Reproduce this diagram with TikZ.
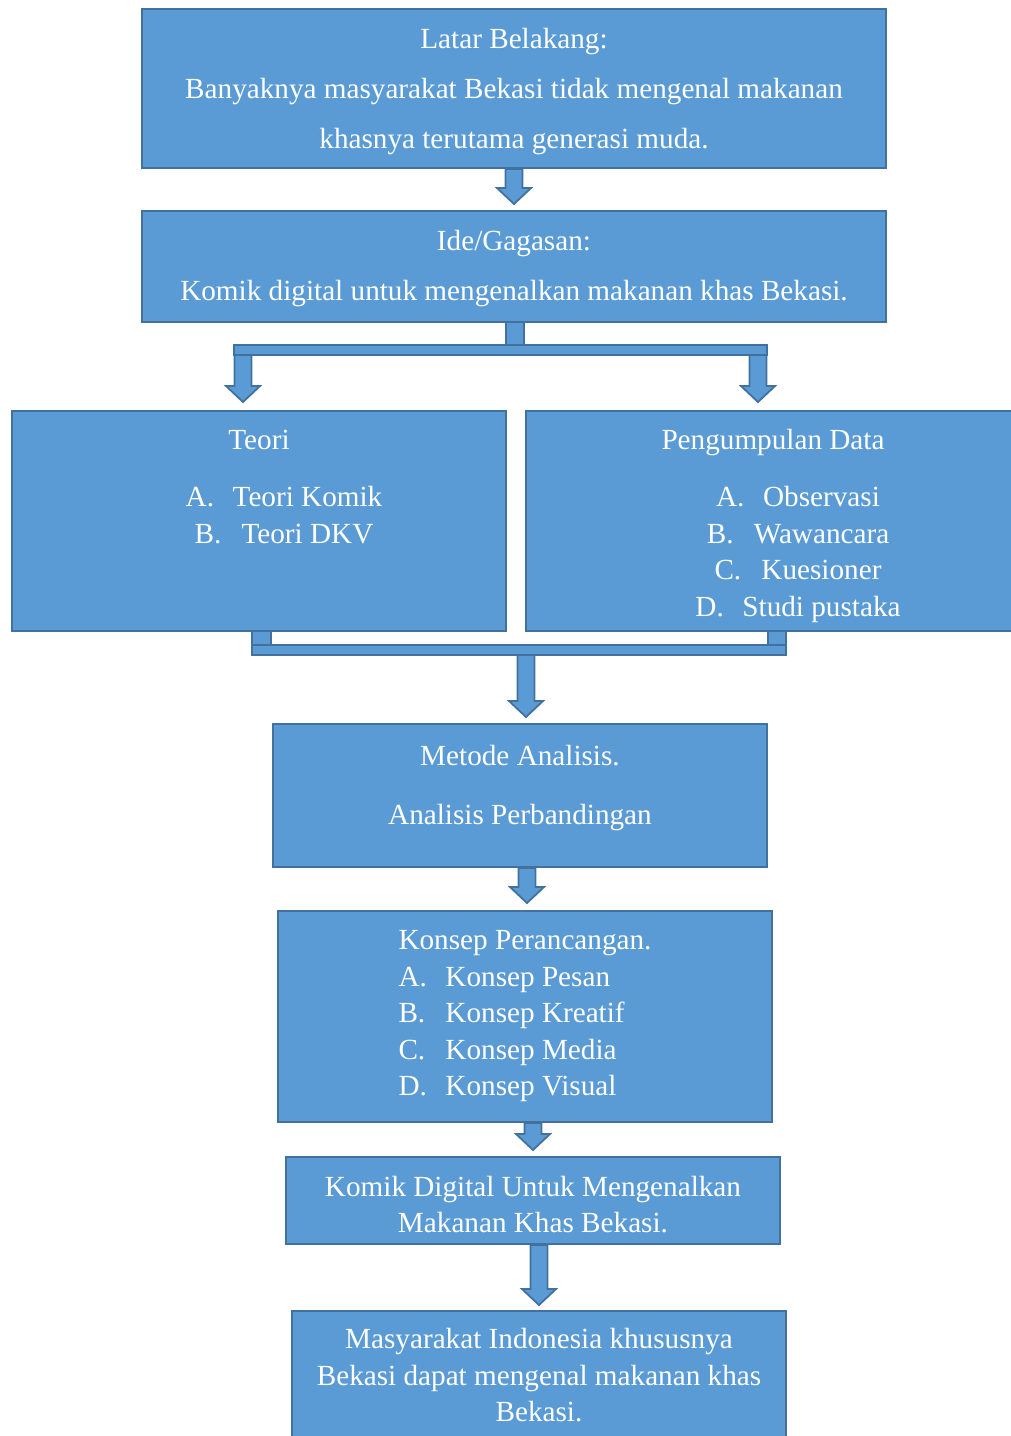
\documentclass[tikz,border=0pt]{standalone}
\usepackage{fontspec}
\setmainfont{Liberation Serif}
\usetikzlibrary{calc}
\definecolor{boxblue}{HTML}{5B9BD5}
\definecolor{boxline}{HTML}{41719C}

\newcommand{\itm}[2]{\makebox[23.5pt][l]{#1}#2}
\newcommand{\blockdown}[2]{%
	\draw[blockarrow] let \p1=(#1), \p2=(#2) in
		(\x2-4.25pt,\y1) -- (\x2+4.25pt,\y1) -- (\x2+4.25pt,\y2+8pt) -- (\x2+8.5pt,\y2+8pt)
		-- (\x2,\y2) -- (\x2-8.5pt,\y2+8pt) -- (\x2-4.25pt,\y2+8pt) -- cycle;}

\begin{document}
\begin{tikzpicture}[x=0.5pt,y=-0.5pt,
		box/.style={draw=boxline,fill=boxblue,line width=1pt,inner sep=0pt},
		boxtext/.style={text=white,align=center,inner sep=0pt,font=\fontsize{14.6pt}{18.25pt}\selectfont},
		wide/.style={font=\fontsize{14.6pt}{25pt}\selectfont},
		blockarrow/.style={draw=boxline,fill=boxblue,line width=0.9pt,line join=miter}]
	\useasboundingbox (0,0) rectangle (1011,1436);

	\coordinate (splitL) at (243,355);
	\coordinate (splitR) at (758,355);
	\coordinate (mergeC) at (526,655);

	% connectors first, boxes on top
	\draw[blockarrow] (506,322) rectangle (524,345);
	\draw[blockarrow] (234,345) rectangle (767,355);
	\blockdown{splitL}{$(splitL)+(0,47)$}
	\blockdown{splitR}{$(splitR)+(0,47)$}

	\draw[blockarrow] (252,631) rectangle (271,645);
	\draw[blockarrow] (768,631) rectangle (786,645);
	\draw[blockarrow] (252,645) rectangle (786,655);
	\blockdown{mergeC}{$(mergeC)+(0,62)$}

	\node[box,minimum width=372pt,minimum height=79.5pt] (lb) at (514,88.5) {};
	\node[box,minimum width=372pt,minimum height=55.5pt] (ide) at (514,266.5) {};
	\node[box,minimum width=247pt,minimum height=110pt] (teori) at (259,521) {};
	\node[box,minimum width=247pt,minimum height=110pt] (data) at (773,521) {};
	\node[box,minimum width=247pt,minimum height=71.5pt] (metode) at (520,795.5) {};
	\node[box,minimum width=247pt,minimum height=105.5pt] (konsep) at (525,1016.5) {};
	\node[box,minimum width=247pt,minimum height=43.5pt] (hasil) at (533,1200.5) {};
	\node[box,minimum width=247pt,minimum height=64.5pt] (tujuan) at (539,1375.5) {};

	\node[boxtext,wide] (lbtext) at ($(lb.center)+(0,3)$)
		{Latar Belakang:\\Banyaknya masyarakat Bekasi tidak mengenal makanan\\khasnya terutama generasi muda.};
	\node[boxtext,wide] (idetext) at ($(ide.center)+(0,2)$)
		{Ide/Gagasan:\\Komik digital untuk mengenalkan makanan khas Bekasi.};
	\node[boxtext] (teoritext) at ($(teori.center)+(0,8)$)
		{Teori\\[10.25pt]\hspace*{25pt}\itm{A.}{Teori Komik}\\\hspace*{25pt}\itm{B.}{Teori DKV}\\\strut\\\strut};
	\node[boxtext] (datatext) at ($(data.center)+(0,5)$)
		{Pengumpulan Data\\[10.25pt]\hspace*{25pt}\itm{A.}{Observasi}\\\hspace*{25pt}\itm{B.}{Wawancara}\\
		\hspace*{25pt}\itm{C.}{Kuesioner}\\\hspace*{25pt}\itm{D.}{Studi pustaka}};
	\node[boxtext] (metodetext) at ($(metode.center)+(0,-7)$)
		{Metode Analisis.\\[11.25pt]Analisis Perbandingan};
	\node[boxtext,align=left] (konseptext) at (konsep.center)
		{Konsep Perancangan.\\\itm{A.}{Konsep Pesan}\\\itm{B.}{Konsep Kreatif}\\\itm{C.}{Konsep Media}\\\itm{D.}{Konsep Visual}};
	\node[boxtext] (hasiltext) at ($(hasil.center)+(0,4)$)
		{Komik Digital Untuk Mengenalkan\\Makanan Khas Bekasi.};
	\node[boxtext] (tujuantext) at (tujuan.center)
		{Masyarakat Indonesia khususnya\\Bekasi dapat mengenal makanan khas\\Bekasi.};

	\blockdown{lb.south}{$(ide.north)+(0,-6)$}
	\blockdown{metode.south}{$(konsep.north)+(2,-7)$}
	\blockdown{konsep.south}{$(hasil.north)+(0,-6)$}
	\blockdown{hasil.south}{$(tujuan.north)+(0,-5)$}
\end{tikzpicture}
\end{document}
